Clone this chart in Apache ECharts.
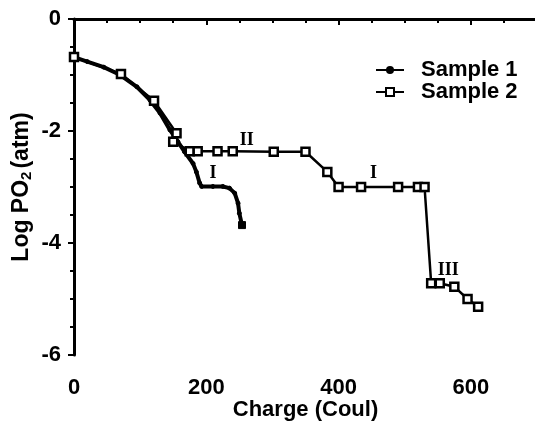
<!DOCTYPE html>
<html>
<head>
<meta charset="utf-8">
<script src="https://cdn.jsdelivr.net/npm/echarts@6/dist/echarts.min.js"></script>
<style>
  html, body { margin: 0; padding: 0; background: #fff; }
  #chart { width: 535px; height: 423px; }
</style>
</head>
<body>
<div id="chart"></div>
<script>
// Sample 1 (charge in Coul, log PO2)
const sample1X = [0, 20, 45, 70, 95, 115, 130, 145, 157, 167, 180, 185, 190, 193, 210, 225, 235, 243, 248, 250, 254];
const sample1Y = [-0.68, -0.76, -0.86, -1.0, -1.21, -1.45, -1.68, -1.98, -2.19, -2.37, -2.58, -2.73, -2.93, -2.99, -2.99, -2.99, -3.02, -3.11, -3.29, -3.47, -3.68];

// Sample 2
const sample2X = [0, 71, 121, 155, 150, 175, 187, 217, 240, 302, 350, 383, 400, 434, 490, 520, 530, 540, 553, 575, 595, 611];
const sample2Y = [-0.68, -0.98, -1.46, -2.04, -2.19, -2.36, -2.36, -2.36, -2.36, -2.37, -2.37, -2.73, -3.0, -3.0, -3.0, -3.0, -3.0, -4.72, -4.72, -4.78, -5.0, -5.14];

// region labels
const regionText = ['II', 'I', 'I', 'III'];
const regionX = [261, 210, 453, 566];
const regionY = [-2.16, -2.75, -2.75, -4.48];

const xTicks = [0, 200, 400, 600];
const yTicks = [0, -2, -4, -6];

const font = "'Liberation Sans', Arial, Helvetica, sans-serif";

function pairs(xs, ys) {
  return xs.map((x, i) => [x, ys[i]]);
}

let s1 = pairs(sample1X, sample1Y);
s1[s1.length - 1] = { value: s1[s1.length - 1], symbol: 'rect', symbolSize: 7 };

let myChart = echarts.init(document.getElementById('chart'));
myChart.setOption({
  animation: false,
  grid: { left: 74, right: -2, top: 19, bottom: 68, outerBoundsMode: 'none', containLabel: false },
  legend: {
    data: ['Sample 1', 'Sample 2'],
    orient: 'vertical',
    left: 370,
    top: 54,
    itemWidth: 28,
    itemHeight: 10,
    itemGap: 0,
    textStyle: { fontFamily: font, fontWeight: 'bold', fontSize: 22, color: '#000', padding: [0, 0, 0, 12] }
  },
  xAxis: {
    type: 'value',
    min: 0,
    max: 700,
    interval: 200,
    name: 'Charge (Coul)',
    nameLocation: 'middle',
    nameGap: 44,
    nameMoveOverlap: false,
    nameTextStyle: { fontFamily: font, fontWeight: 'bold', fontSize: 22, color: '#000' },
    axisLine: { lineStyle: { color: '#000', width: 3 } },
    axisTick: { show: true, length: 6, lineStyle: { color: '#000', width: 2 } },
    minorTick: { show: true, splitNumber: 4, length: 4, lineStyle: { color: '#000', width: 2 } },
    splitLine: { show: false },
    axisLabel: {
      margin: 22,
      fontFamily: font, fontWeight: 'bold', fontSize: 22, color: '#000',
      formatter: v => xTicks.includes(v) ? String(v) : ''
    }
  },
  yAxis: {
    type: 'value',
    min: -6,
    max: 0,
    interval: 2,
    name: '{n|Log PO}{s|2}{n|(atm)}',
    nameLocation: 'middle',
    nameGap: 40,
    nameMoveOverlap: false,
    nameRotate: 90,
    nameTextStyle: {
      color: '#000',
      rich: {
        n: { fontFamily: font, fontWeight: 'bold', fontSize: 23, color: '#000' },
        s: { fontFamily: font, fontWeight: 'bold', fontSize: 15, color: '#000', verticalAlign: 'bottom', padding: [10, 3, 0, 0] }
      }
    },
    axisLine: { show: true, onZero: false, lineStyle: { color: '#000', width: 3 } },
    axisTick: { show: true, length: 6, lineStyle: { color: '#000', width: 2 } },
    minorTick: { show: true, splitNumber: 4, length: 4, lineStyle: { color: '#000', width: 2 } },
    splitLine: { show: false },
    axisLabel: {
      margin: 13,
      fontFamily: font, fontWeight: 'bold', fontSize: 22, color: '#000',
      formatter: v => yTicks.includes(v) ? String(v) : ''
    }
  },
  series: [{
    name: 'Sample 1',
    type: 'line',
    data: s1,
    symbol: 'circle',
    symbolSize: 4,
    lineStyle: { color: '#000', width: 4 },
    itemStyle: { color: '#000', borderColor: '#000' },
    // top frame line at log PO2 = 0
    markLine: {
      silent: true,
      symbol: 'none',
      label: { show: false },
      lineStyle: { color: '#000', width: 3, type: 'solid' },
      data: [{ yAxis: 0 }]
    }
  }, {
    name: 'Sample 2',
    type: 'line',
    data: pairs(sample2X, sample2Y),
    symbol: 'rect',
    symbolSize: 8,
    lineStyle: { color: '#000', width: 2.5 },
    itemStyle: { color: '#fff', borderColor: '#000', borderWidth: 2.5 }
  }, {
    name: 'regions',
    type: 'scatter',
    symbolSize: 0,
    silent: true,
    itemStyle: { opacity: 1 },
    data: regionText.map((t, i) => ({ name: t, value: [regionX[i], regionY[i]] })),
    label: {
      show: true,
      position: 'inside',
      formatter: p => p.name,
      fontFamily: "'Liberation Serif', 'Times New Roman', serif",
      fontWeight: 'bold',
      fontSize: 18,
      color: '#000',
      opacity: 1
    }
  }]
});
</script>
</body>
</html>
